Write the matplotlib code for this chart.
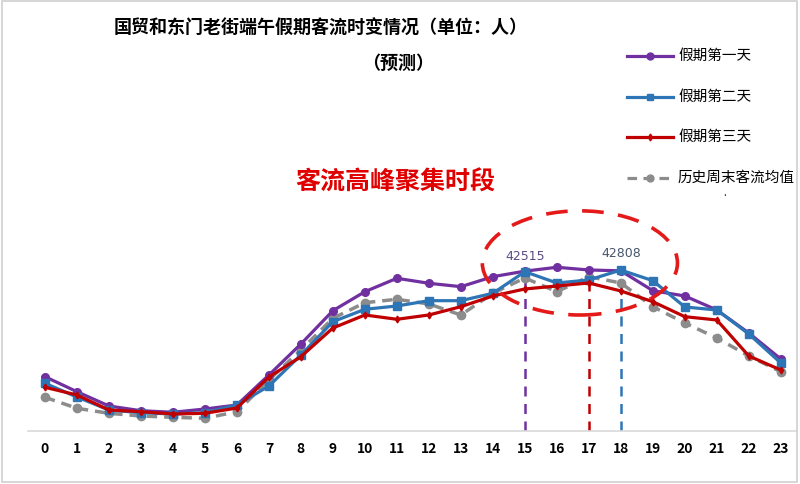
import matplotlib.pyplot as plt
from matplotlib.patches import Ellipse, Rectangle
from matplotlib.lines import Line2D

plt.rcParams['font.family'] = ['Noto Sans CJK SC', 'DejaVu Sans']

# hourly passenger flow (persons)
hours = list(range(24))
day1 = [14444, 10454, 6650, 5400, 4974, 5852, 6916, 14896, 23142, 32000,
        37054, 40618, 39288, 38384, 41044, 42515, 43544, 42826, 42600, 37320,
        35910, 32186, 26068, 19152]
day2 = [12688, 9044, 5586, 4868, 4522, 4868, 6916, 11970, 20216, 29074,
        32372, 33250, 34660, 34660, 36628, 42374, 39368, 40166, 42808, 39980,
        32984, 32186, 25802, 18088]
day3 = [11624, 9576, 5586, 5134, 4522, 4708, 6118, 14364, 19764, 27398,
        30856, 29712, 30856, 33064, 35910, 37772, 38570, 39368, 37240, 34394,
        30404, 29526, 19950, 16226]
hist = [8964, 6038, 4708, 3990, 3644, 3378, 5134, 13566, 21546, 29978,
        34128, 35032, 33782, 30856, 36628, 40698, 37054, 41044, 39368, 33064,
        28728, 24738, 19950, 15774]

names = ['假期第一天', '假期第二天', '假期第三天', '历史周末客流均值']
colors = ['#7030A0', '#2E75B6', '#C00000', '#8C8C8C']

fig = plt.figure(figsize=(8, 4.84), dpi=100)
ax = fig.add_axes([0.035, 53 / 484, 0.961, 426 / 484])
ax.set_xlim(-0.53, 23.5)
ax.set_ylim(0, 113300)

# main series
ax.plot(hours, day1, color=colors[0], lw=2.3, marker='o', ms=5.5, zorder=3)
ax.plot(hours, day2, color=colors[1], lw=2.3, marker='s', ms=5.5, zorder=3)
ax.plot(hours, day3, color=colors[2], lw=2.3, marker='d', ms=3.5, zorder=4)
ax.plot(hours, hist, color=colors[3], lw=2.5, ls=(0, (3, 2)), marker='o', ms=6, zorder=2)

# peak markers
ax.vlines(15, 0, day1[15], colors='#7030A0', linestyles=(0, (4, 3)), lw=1.8, zorder=1)
ax.vlines(17, 0, day3[17], colors='#C00000', linestyles=(0, (4, 3)), lw=1.8, zorder=1)
ax.vlines(18, 0, day2[18], colors='#2E75B6', linestyles=(0, (4, 3)), lw=1.8, zorder=1)
ax.text(15, day1[15] + 2200, '42515', color='#5B4A86', fontsize=9, ha='center', va='bottom',
        family=['DejaVu Sans'])
ax.text(18, day2[18] + 2600, '42808', color='#44546A', fontsize=9, ha='center', va='bottom',
        family=['DejaVu Sans'])

# highlighted peak region
ax.add_patch(Ellipse((16.72, 44700), 6.1, 27700, fill=False, ec='#E41A1A', lw=2.6,
                     ls=(0, (6, 4)), zorder=5))
ax.text(10.94, 66000, '客流高峰聚集时段', color='#E00000', fontsize=18, fontweight='bold',
        ha='center', va='center')

# axis styling
for s in ['top', 'right', 'left']:
    ax.spines[s].set_visible(False)
ax.spines['bottom'].set_color('#D9D9D9')
ax.spines['bottom'].set_linewidth(1.2)
ax.set_yticks([])
ax.set_xticks(hours)
ax.set_xticklabels([str(h) for h in hours], fontweight='bold', fontsize=10)
ax.tick_params(axis='x', length=0, pad=8)

# title
fig.text(0.401, 1 - 28 / 484, '国贸和东门老街端午假期客流时变情况（单位：人）', fontsize=13,
         fontweight='bold', ha='center', va='center')
fig.text(0.497, 1 - 63 / 484, '（预测）', fontsize=13, fontweight='bold', ha='center', va='center')

# legend, spaced out like the original
leg_y = [56, 97, 137, 178]
markers = ['o', 's', 'd', 'o']
for i in range(4):
    y = 1 - leg_y[i] / 484
    ls = (0, (3, 2)) if i == 3 else '-'
    fig.add_artist(Line2D([627 / 800, 673 / 800], [y, y], color=colors[i], lw=2.3, ls=ls))
    fig.add_artist(Line2D([650 / 800], [y], color=colors[i], marker=markers[i],
                          ms=5 if i != 2 else 3.5))
    fig.text(678 / 800, y, names[i], fontsize=10.5, ha='left', va='center')
fig.text(725 / 800, 1 - 193 / 484, '.', fontsize=7, ha='center', va='center')

# light frame around the picture
fig.add_artist(Rectangle((0.002, 0.004), 0.994, 0.993, transform=fig.transFigure,
                         fill=False, ec='#D0D0D0', lw=1.2))

fig.savefig('out.png', dpi=100)
